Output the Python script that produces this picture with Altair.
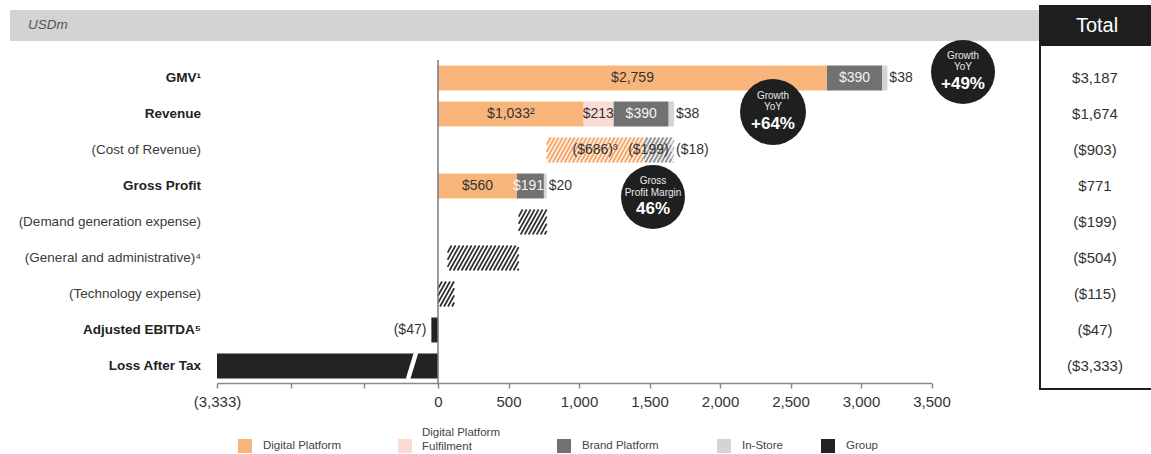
import altair as alt
import pandas as pd

# ---------------- data ----------------
row_labels = ["GMV¹", "Revenue", "(Cost of Revenue)", "Gross Profit",
              "(Demand generation expense)", "(General and administrative)⁴",
              "(Technology expense)", "Adjusted EBITDA⁵", "Loss After Tax"]
row_is_subtotal = [True, True, False, True, False, False, False, True, True]
row_totals = ["$3,187", "$1,674", "($903)", "$771", "($199)", "($504)",
              "($115)", "($47)", "($3,333)"]

segments = ["Digital Platform", "Digital Platform Fulfilment", "Brand Platform",
            "In-Store", "Group"]

gmv_values = [2759, 0, 390, 38]
gmv_labels = ["$2,759", "", "$390", "$38"]
revenue_values = [1033, 213, 390, 38]
revenue_labels = ["$1,033²", "$213", "$390", "$38"]
cost_values = [686, 0, 199, 18]
cost_labels = ["($686)³", "", "($199)", "($18)"]
gross_profit_values = [560, 0, 191, 20]
gross_profit_labels = ["$560", "", "$191", "$20"]
demand_generation = 199
general_admin = 504
technology = 115
adjusted_ebitda = -47
adjusted_ebitda_label = "($47)"
loss_after_tax = -3333

axis_ticks = [0, 500, 1000, 1500, 2000, 2500, 3000, 3500]

bubble_lines = [["Growth", "YoY", "+49%"],
                ["Growth", "YoY", "+64%"],
                ["Gross", "Profit Margin", "46%"]]

# ---------------- styling / layout ----------------
FONT = "Liberation Sans"
seg_colors = ["#F8B57B", "#FADCD4", "#717171", "#D4D4D4", "#232323"]
hatch_bg = {0: "#FEF0E4", 2: "#F0F0F0", 3: "#F7F7F7", 4: "#FFFFFF"}
hatch_fg = {0: "#F5A463", 2: "#8E8E8E", 3: "#C4C4C4", 4: "#2E2E2E"}

LEFT, TOP = 217, 60          # plot origin on the canvas
W_LEFT_PX = 221              # broken negative part of the axis
K = 0.141                    # pixels per USDm
XMAX = axis_ticks[-1]
XMIN = -W_LEFT_PX / K
W = W_LEFT_PX + XMAX * K
H = 323
ROW_PX = 36
YMIN = -0.5
YMAX = YMIN + H / ROW_PX
BAR_HALF = 0.347
LABEL_FS = 14

xs = alt.Scale(domain=[XMIN, XMAX], nice=False, zero=False)
ys = alt.Scale(domain=[YMIN, YMAX], nice=False, zero=False, reverse=True)

x_axis = alt.Axis(
    values=[XMIN, XMIN * 2 / 3, XMIN / 3] + axis_ticks,
    labelExpr=f"datum.value < -1 ? (datum.value < {XMIN + 1} ? '({abs(loss_after_tax):,})' : '') : format(datum.value, ',')",
    title=None, grid=False, labelFlush=False, labelOverlap=False)

# ---------------- derived tables ----------------
bars, hatch_bgs, hatch_lines, lab_c, lab_l, lab_r = [], [], [], [], [], []


def hatch(x0, x1, row, color, period_px=4.0, run_px=14.0):
    run = run_px / K
    step = period_px / K
    yb, yt = row + BAR_HALF, row - BAR_HALF
    s = x0 - run
    while s < x1:
        t0 = max(0.0, (x0 - s) / run)
        t1 = min(1.0, (x1 - s) / run)
        if t1 > t0:
            hatch_lines.append(dict(hx0=s + run * t0, hx1=s + run * t1,
                                    hy0=yb + (yt - yb) * t0, hy1=yb + (yt - yb) * t1,
                                    hc=color))
        s += step


def add_bar(row, x0, x1, seg, hatched, label=""):
    if hatched:
        hatch_bgs.append(dict(row=row, x0=x0, x1=x1, y0=row - BAR_HALF,
                              y1=row + BAR_HALF, c=hatch_bg[seg]))
        hatch(x0, x1, row, hatch_fg[seg])
    else:
        bars.append(dict(row=row, x0=x0, x1=x1, y0=row - BAR_HALF,
                         y1=row + BAR_HALF, c=seg_colors[seg]))
    if label:
        tc = "#F4F4F4" if (seg == 2 and not hatched) else "#333333"
        if x1 <= 0:
            lab_r.append(dict(row=row, x=min(x0, x1) - 5 / K, t=label, tc=tc))
        elif (x1 - x0) * K >= 15:
            # centre the label, but keep it from running past the segment's end
            half_w = len(label) * 0.55 * LABEL_FS / 2 / K
            cx = min((x0 + x1) / 2, x1 - half_w)
            lab_c.append(dict(row=row, x=cx, t=label, tc=tc))
        else:
            lab_l.append(dict(row=row, x=x1 + 2 / K, t=label, tc="#333333"))


def add_stack(row, values, labels, start, hatched):
    x = start
    for seg, (v, lab) in enumerate(zip(values, labels)):
        if v == 0:
            continue
        add_bar(row, x, x + v, seg, hatched, lab)
        x += v


gross_profit_total = sum(gross_profit_values)
add_stack(0, gmv_values, gmv_labels, 0, False)
add_stack(1, revenue_values, revenue_labels, 0, False)
add_stack(2, cost_values, cost_labels, gross_profit_total, True)
add_stack(3, gross_profit_values, gross_profit_labels, 0, False)
dg0 = gross_profit_total - demand_generation
add_bar(4, dg0, gross_profit_total, 4, True)
ga0 = dg0 - general_admin
add_bar(5, ga0, dg0, 4, True)
add_bar(6, 0, technology, 4, True)
add_bar(7, adjusted_ebitda, 0, 4, False, adjusted_ebitda_label)
add_bar(8, XMIN, 0, 4, False)

bars_df = pd.DataFrame(bars)
hbg_df = pd.DataFrame(hatch_bgs)
hl_df = pd.DataFrame(hatch_lines)

rows_df = pd.DataFrame(dict(row=list(range(len(row_labels))), label=row_labels,
                            bold=row_is_subtotal, total=row_totals))

# ---------------- layers ----------------
one = pd.DataFrame({"k": [0]})


def X(field):
    return alt.X(field, scale=xs, axis=x_axis, title=None)


def Y(field):
    return alt.Y(field, scale=ys, axis=None, title=None)


deco = pd.DataFrame([
    dict(px0=10, px1=1040, py0=10, py1=41, pc="#D3D3D3"),
    dict(px0=1040, px1=1170, py0=6, py1=389, pc="#FFFFFF"),
    dict(px0=1040, px1=1170, py0=6, py1=46, pc="#1E1E1E"),
])
for c in ["px0", "px1"]:
    deco[c] = deco[c] - LEFT
for c in ["py0", "py1"]:
    deco[c] = deco[c] - TOP
header_layer = alt.Chart(deco).mark_rect().encode(
    x=alt.X("px0:Q", scale=None), x2="px1:Q",
    y=alt.Y("py0:Q", scale=None), y2="py1:Q",
    fill=alt.Fill("pc:N", scale=None))

box_layer = alt.Chart(one).mark_rect(filled=False, stroke="#1E1E1E", strokeWidth=2).encode(
    x=alt.value(1040 - LEFT), x2=alt.value(1170 - LEFT),
    y=alt.value(6 - TOP), y2=alt.value(389 - TOP))

usdm = alt.Chart(one).mark_text(text="USDm", font=FONT, fontSize=13.5, fontStyle="italic",
                                 align="left", color="#555555").encode(
    x=alt.value(28 - LEFT), y=alt.value(25 - TOP))
total_head = alt.Chart(one).mark_text(text="Total", font=FONT, fontSize=20,
                                       color="#FFFFFF").encode(
    x=alt.value(1097 - LEFT), y=alt.value(26 - TOP))

bar_layer = alt.Chart(bars_df).mark_rect().encode(
    x=X("x0:Q"), x2="x1:Q", y=Y("y0:Q"), y2="y1:Q",
    fill=alt.Fill("c:N", scale=None))

hbg_layer = alt.Chart(hbg_df).mark_rect().encode(
    x=X("x0:Q"), x2="x1:Q", y=Y("y0:Q"), y2="y1:Q",
    fill=alt.Fill("c:N", scale=None))

hl_layer = alt.Chart(hl_df).mark_rule(strokeWidth=1.7, strokeCap="butt").encode(
    x=X("hx0:Q"), x2="hx1:Q", y=Y("hy0:Q"), y2="hy1:Q",
    color=alt.Color("hc:N", scale=None))

# slanted white break on the truncated loss bar
brk = pd.DataFrame([dict(bx0=-30 / K, bx1=-22 / K, by0=8 + BAR_HALF + 0.02, by1=8 - BAR_HALF - 0.02)])
break_layer = alt.Chart(brk).mark_rule(color="#FFFFFF", strokeWidth=4.5).encode(
    x=X("bx0:Q"), x2="bx1:Q", y=Y("by0:Q"), y2="by1:Q")

zero_layer = alt.Chart(one).mark_rule(color="#7A7A7A", strokeWidth=1.5).encode(
    x=alt.X(datum=0, scale=xs, axis=x_axis, title=None), y=alt.value(0), y2=alt.value(H))


def label_layer(rows, align):
    return alt.Chart(pd.DataFrame(rows)).mark_text(font=FONT, fontSize=LABEL_FS, align=align).encode(
        x=X("x:Q"), y=Y("row:Q"),
        text="t:N", color=alt.Color("tc:N", scale=None))


row_bold_layer = alt.Chart(rows_df[rows_df.bold]).mark_text(
    font=FONT, fontSize=13.5, fontWeight="bold", align="right", color="#222222").encode(
    x=alt.value(201 - LEFT), y=Y("row:Q"), text="label:N")
row_norm_layer = alt.Chart(rows_df[~rows_df.bold]).mark_text(
    font=FONT, fontSize=13.5, align="right", color="#3A3A3A").encode(
    x=alt.value(201 - LEFT), y=Y("row:Q"), text="label:N")
totals_layer = alt.Chart(rows_df).mark_text(font=FONT, fontSize=15, color="#333333").encode(
    x=alt.value(1095 - LEFT), y=Y("row:Q"), text="total:N")

# bubbles (annotations)
bubble_pos = [(963, 72, 32), (773, 112, 33), (653, 197, 32)]
bub_df = pd.DataFrame([dict(bx=x - LEFT, by=y - TOP, bs=(2 * r) ** 2) for x, y, r in bubble_pos])
bubble_layer = alt.Chart(bub_df).mark_circle(color="#1F1F1F", opacity=1).encode(
    x=alt.X("bx:Q", scale=None), y=alt.Y("by:Q", scale=None), size=alt.Size("bs:Q", scale=None))
small_t, big_t = [], []
offsets = [[-16, -5, 12], [-16, -5, 12], [-16, -4, 12]]
for (x, y, r), lines, offs in zip(bubble_pos, bubble_lines, offsets):
    small_t.append(dict(tx=x - LEFT, ty=y - TOP + offs[0], t=lines[0]))
    small_t.append(dict(tx=x - LEFT, ty=y - TOP + offs[1], t=lines[1]))
    big_t.append(dict(tx=x - LEFT, ty=y - TOP + offs[2], t=lines[2]))
bub_small = alt.Chart(pd.DataFrame(small_t)).mark_text(font=FONT, fontSize=10, color="#E8E8E8").encode(
    x=alt.X("tx:Q", scale=None), y=alt.Y("ty:Q", scale=None), text="t:N")
bub_big = alt.Chart(pd.DataFrame(big_t)).mark_text(font=FONT, fontSize=17, fontWeight="bold",
                                                   color="#FFFFFF").encode(
    x=alt.X("tx:Q", scale=None), y=alt.Y("ty:Q", scale=None), text="t:N")

# legend (manual, to match the reference's spacing)
leg_sq_x = [245, 405, 564, 724, 828]
leg_y = 446
leg_sq = pd.DataFrame([dict(lx=x - LEFT, ly=leg_y - TOP, c=c) for x, c in zip(leg_sq_x, seg_colors)])
legend_sq_layer = alt.Chart(leg_sq).mark_square(size=196, opacity=1).encode(
    x=alt.X("lx:Q", scale=None), y=alt.Y("ly:Q", scale=None), color=alt.Color("c:N", scale=None))
leg_txt = []
for x, name in zip(leg_sq_x, segments):
    if name == "Digital Platform Fulfilment":
        leg_txt.append(dict(lx=x + 17 - LEFT, ly=433 - TOP, t="Digital Platform"))
        leg_txt.append(dict(lx=x + 17 - LEFT, ly=447 - TOP, t="Fulfilment"))
    else:
        leg_txt.append(dict(lx=x + 18 - LEFT, ly=leg_y - TOP, t=name))
legend_txt_layer = alt.Chart(pd.DataFrame(leg_txt)).mark_text(
    font=FONT, fontSize=11.5, align="left", color="#444444").encode(
    x=alt.X("lx:Q", scale=None), y=alt.Y("ly:Q", scale=None), text="t:N")

chart = alt.layer(
    bar_layer, header_layer, box_layer, usdm, total_head,
    hbg_layer, hl_layer, break_layer, zero_layer,
    label_layer(lab_c, "center"), label_layer(lab_l, "left"), label_layer(lab_r, "right"),
    row_bold_layer, row_norm_layer, totals_layer,
    bubble_layer, bub_small, bub_big,
    legend_sq_layer, legend_txt_layer,
).properties(
    width=W, height=H,
    autosize=alt.AutoSizeParams(type="none"),
    padding={"left": LEFT, "top": TOP, "right": 1151 - LEFT - W, "bottom": 454 - TOP - H},
    background="#FFFFFF",
).configure_view(stroke=None).configure_axis(
    domainColor="#8A8A8A", domainWidth=1.5, tickColor="#8A8A8A", tickWidth=1.5, tickSize=5,
    labelFont=FONT, labelFontSize=15, labelColor="#333333", labelPadding=6,
)

chart.save("out.html", embed_options={"renderer": "svg", "actions": False})
